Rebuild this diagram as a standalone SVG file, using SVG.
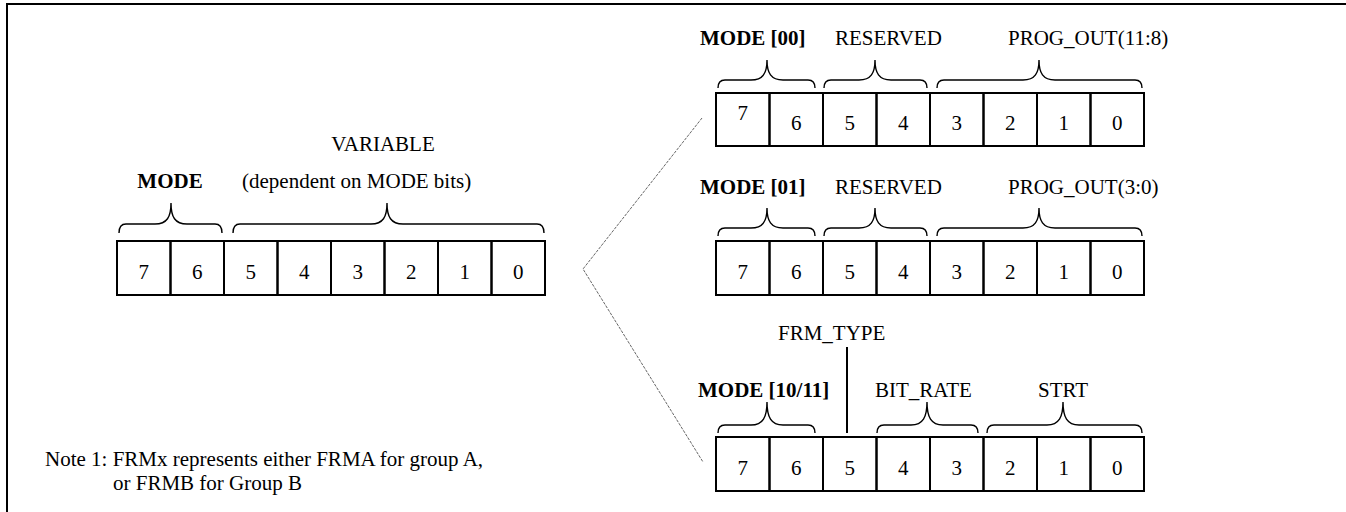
<svg xmlns="http://www.w3.org/2000/svg" width="1346" height="512" viewBox="0 0 1346 512">
<style>
.frame{fill:none;stroke:#000;stroke-width:2}
.cell{fill:none;stroke:#000;stroke-width:2}
.br{fill:none;stroke:#000;stroke-width:1.4}
.t{font-family:"Liberation Serif","Times New Roman",serif;font-size:21px;fill:#000}
.b{font-weight:bold}
.m{text-anchor:middle}
.conn{fill:none;stroke:#555;stroke-width:0.9;stroke-dasharray:3 1.2}
</style>
<rect width="1346" height="512" fill="#fff"/>
<path class="frame" d="M7,512 V4 H1346"/>

<g id="connectors">
<polyline class="conn" points="702,118 583,269 703,462"/>
</g>

<g id="reg-main">
<g class="cell">
<rect x="117" y="241" width="53.5" height="54"/><rect x="170.5" y="241" width="53.5" height="54"/>
<rect x="224" y="241" width="53.5" height="54"/><rect x="277.5" y="241" width="53.5" height="54"/>
<rect x="331" y="241" width="53.5" height="54"/><rect x="384.5" y="241" width="53.5" height="54"/>
<rect x="438" y="241" width="53.5" height="54"/><rect x="491.5" y="241" width="53.5" height="54"/>
</g>
<g class="t m">
<text x="143.75" y="279">7</text><text x="197.25" y="279">6</text><text x="250.75" y="279">5</text><text x="304.25" y="279">4</text>
<text x="357.75" y="279">3</text><text x="411.25" y="279">2</text><text x="464.75" y="279">1</text><text x="518.25" y="279">0</text>
</g>
<path class="br" d="M119,233 Q119,224 126,224 L155,224 C167,224 171,217 171,203 C171,217 175,224 187,224 L215,224 Q222,224 222,233"/>
<path class="br" d="M233,233 Q233,224 240,224 L371,224 C383,224 387,217 387,203 C387,217 391,224 403,224 L537,224 Q544,224 544,233"/>
<text class="t b m" x="170" y="188">MODE</text>
<text class="t" x="242" y="188">(dependent on MODE bits)</text>
<text class="t m" x="383" y="151">VARIABLE</text>
</g>

<g id="reg-mode00">
<g class="cell">
<rect x="716" y="93" width="53.5" height="53"/><rect x="769.5" y="93" width="53.5" height="53"/>
<rect x="823" y="93" width="53.5" height="53"/><rect x="876.5" y="93" width="53.5" height="53"/>
<rect x="930" y="93" width="53.5" height="53"/><rect x="983.5" y="93" width="53.5" height="53"/>
<rect x="1037" y="93" width="53.5" height="53"/><rect x="1090.5" y="93" width="53.5" height="53"/>
</g>
<g class="t m">
<text x="742.75" y="120">7</text><text x="796.25" y="130">6</text><text x="849.75" y="130">5</text><text x="903.25" y="130">4</text>
<text x="956.75" y="130">3</text><text x="1010.25" y="130">2</text><text x="1063.75" y="130">1</text><text x="1117.25" y="130">0</text>
</g>
<path class="br" d="M718,88 Q718,80 725,80 L751,80 C763,80 767,73 767,60 C767,73 771,80 783,80 L808,80 Q815,80 815,88"/>
<path class="br" d="M824,88 Q824,80 831,80 L859,80 C871,80 875,73 875,60 C875,73 879,80 891,80 L920,80 Q927,80 927,88"/>
<path class="br" d="M937,88 Q937,80 944,80 L1023,80 C1035,80 1039,73 1039,60 C1039,73 1043,80 1055,80 L1135,80 Q1142,80 1142,88"/>
<text class="t b" x="700" y="45">MODE [00]</text>
<text class="t" x="835" y="45">RESERVED</text>
<text class="t" x="1008" y="45">PROG_OUT(11:8)</text>
</g>

<g id="reg-mode01">
<g class="cell">
<rect x="716" y="241" width="53.5" height="54"/><rect x="769.5" y="241" width="53.5" height="54"/>
<rect x="823" y="241" width="53.5" height="54"/><rect x="876.5" y="241" width="53.5" height="54"/>
<rect x="930" y="241" width="53.5" height="54"/><rect x="983.5" y="241" width="53.5" height="54"/>
<rect x="1037" y="241" width="53.5" height="54"/><rect x="1090.5" y="241" width="53.5" height="54"/>
</g>
<g class="t m">
<text x="742.75" y="279">7</text><text x="796.25" y="279">6</text><text x="849.75" y="279">5</text><text x="903.25" y="279">4</text>
<text x="956.75" y="279">3</text><text x="1010.25" y="279">2</text><text x="1063.75" y="279">1</text><text x="1117.25" y="279">0</text>
</g>
<path class="br" d="M718,236 Q718,228 725,228 L751,228 C763,228 767,221 767,208 C767,221 771,228 783,228 L808,228 Q815,228 815,236"/>
<path class="br" d="M824,236 Q824,228 831,228 L859,228 C871,228 875,221 875,208 C875,221 879,228 891,228 L920,228 Q927,228 927,236"/>
<path class="br" d="M937,236 Q937,228 944,228 L1023,228 C1035,228 1039,221 1039,208 C1039,221 1043,228 1055,228 L1135,228 Q1142,228 1142,236"/>
<text class="t b" x="700" y="194">MODE [01]</text>
<text class="t" x="835" y="194">RESERVED</text>
<text class="t" x="1008" y="194">PROG_OUT(3:0)</text>
</g>

<g id="reg-mode10">
<g class="cell">
<rect x="716" y="437" width="53.5" height="54"/><rect x="769.5" y="437" width="53.5" height="54"/>
<rect x="823" y="437" width="53.5" height="54"/><rect x="876.5" y="437" width="53.5" height="54"/>
<rect x="930" y="437" width="53.5" height="54"/><rect x="983.5" y="437" width="53.5" height="54"/>
<rect x="1037" y="437" width="53.5" height="54"/><rect x="1090.5" y="437" width="53.5" height="54"/>
</g>
<g class="t m">
<text x="742.75" y="475">7</text><text x="796.25" y="475">6</text><text x="849.75" y="475">5</text><text x="903.25" y="475">4</text>
<text x="956.75" y="475">3</text><text x="1010.25" y="475">2</text><text x="1063.75" y="475">1</text><text x="1117.25" y="475">0</text>
</g>
<path class="br" d="M718,433 Q718,425 725,425 L751,425 C763,425 767,417 767,402 C767,417 771,425 783,425 L808,425 Q815,425 815,433"/>
<path class="br" d="M877,433 Q877,425 884,425 L911,425 C923,425 927,417 927,402 C927,417 931,425 943,425 L971,425 Q978,425 978,433"/>
<path class="br" d="M987,433 Q987,425 994,425 L1047,425 C1059,425 1063,417 1063,402 C1063,417 1067,425 1079,425 L1135,425 Q1142,425 1142,433"/>
<line x1="847" y1="347" x2="847" y2="433" stroke="#000" stroke-width="2"/>
<text class="t" x="778" y="340">FRM_TYPE</text>
<text class="t b" x="698" y="397">MODE [10/11]</text>
<text class="t" x="875" y="397">BIT_RATE</text>
<text class="t m" x="1063" y="397">STRT</text>
</g>

<g id="note">
<text class="t" x="45" y="466">Note 1: FRMx represents either FRMA for group A,</text>
<text class="t" x="113" y="490">or FRMB for Group B</text>
</g>
</svg>
